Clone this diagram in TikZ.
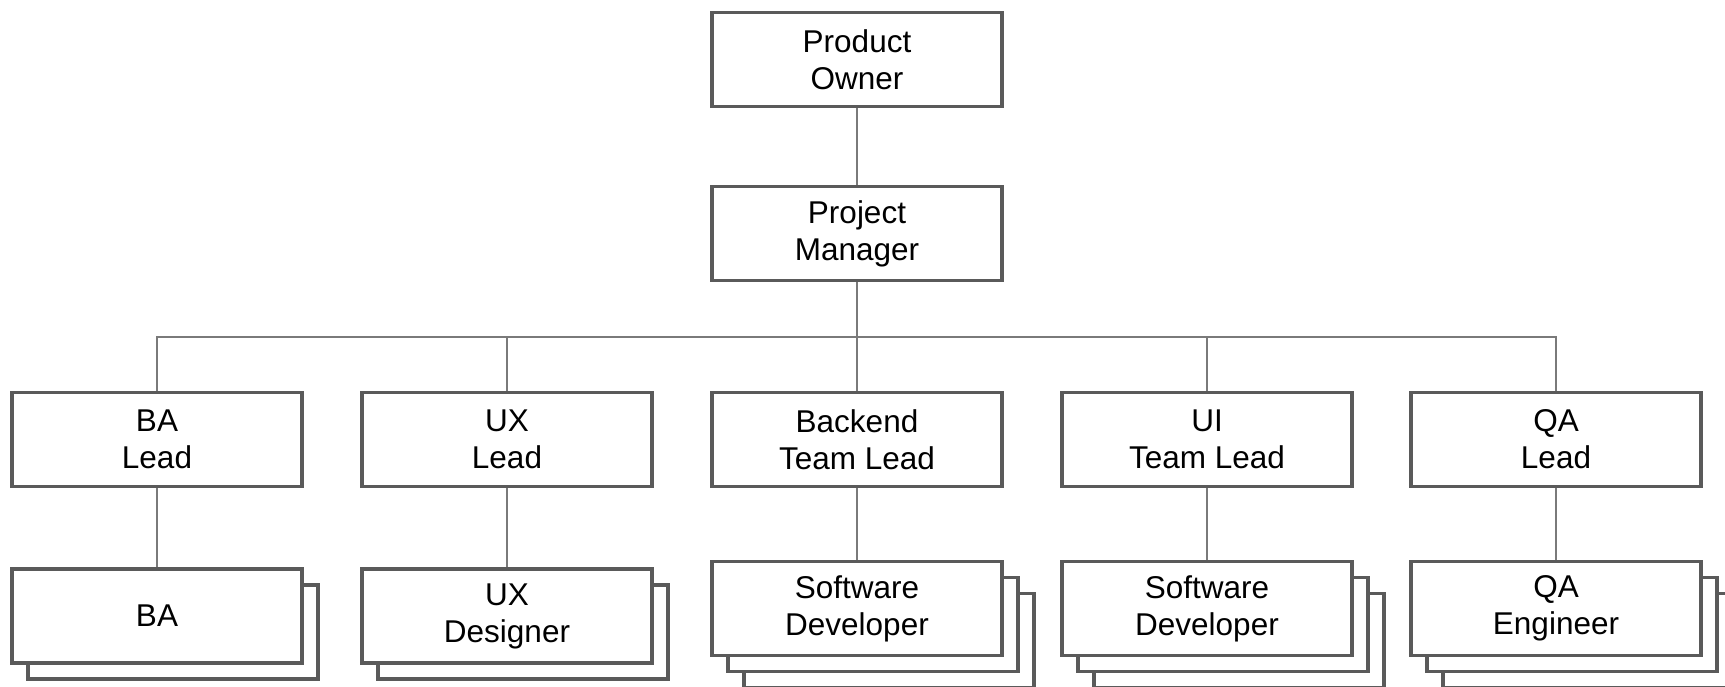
\documentclass[tikz,border=0pt]{standalone}
\usepackage{fontspec}
\setmainfont{Liberation Sans}
\usetikzlibrary{
positioning,
shadows
}
\definecolor{boxgray}{HTML}{5A5A5A}
\definecolor{linegray}{HTML}{7A7A7A}

\begin{document}
\begin{tikzpicture}[x=1pt, y=-1pt,
	role/.style={draw=boxgray, line width=3.5pt, fill=white, align=center,
		minimum width=290pt, minimum height=94pt, inner sep=0pt,
		font=\fontsize{31.5}{37}\selectfont},
	team/.style={role, copy shadow={shadow xshift=16pt, shadow yshift=-16pt}},
	bigteam/.style={role, double copy shadow={shadow xshift=16pt, shadow yshift=-16pt}},
	link/.style={draw=linegray, line width=1.6pt}]
		\useasboundingbox (0,0) rectangle (1725,687);
		\clip (0,0) rectangle (1725,687);

		\node[role] (po) at (857,59.5)  {Product\\Owner};
		\node[role] (pm) at (857,233.5) {Project\\Manager};
		\coordinate (bus) at (857,337);

		\node[role] (bal) at (157,439.5)  {BA\\Lead};
		\node[role] (uxl) at (507,439.5)  {UX\\Lead};
		\node[role] (bel) at (857,439.5)  {Backend\\Team Lead};
		\node[role] (uil) at (1207,439.5) {UI\\Team Lead};
		\node[role] (qal) at (1556,439.5) {QA\\Lead};

		\node[team] (ba) at (157,616) {BA};
		\node[team] (uxd) at (507,616) {UX\\Designer};
		\node[bigteam] (bed) at (857,608.5)  {Software\\Developer};
		\node[bigteam] (uid) at (1207,608.5) {Software\\Developer};
		\node[bigteam] (qae) at (1556,608.5) {QA\\Engineer};

		\draw[link] (po) -- (pm);
		\draw[link] (pm) -- (bus);
		\foreach \n in {bal,uxl,bel,uil,qal}
			\draw[link] (bus) -| (\n);

		\draw[link] (bal) -- (ba);
		\draw[link] (uxl) -- (uxd);
		\draw[link] (bel) -- (bed);
		\draw[link] (uil) -- (uid);
		\draw[link] (qal) -- (qae);
	\end{tikzpicture}
\end{document}
